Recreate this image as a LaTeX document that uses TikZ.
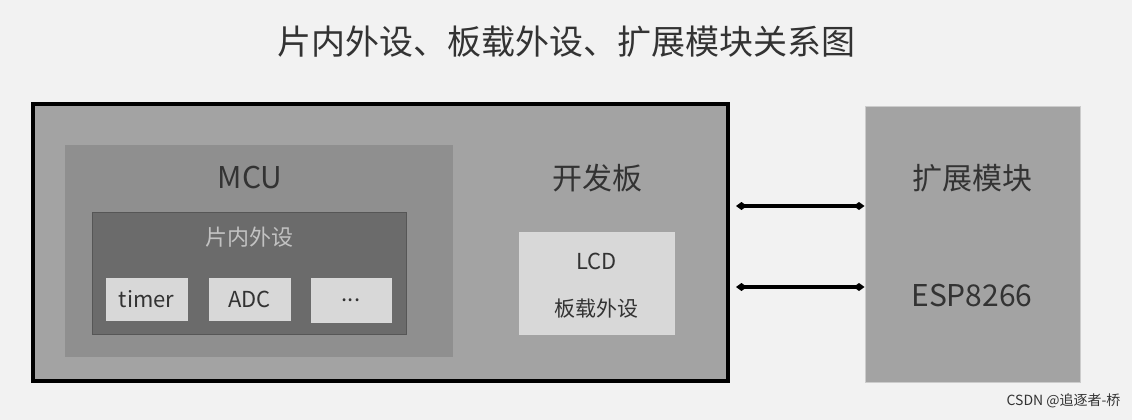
\documentclass[tikz,border=0pt]{standalone}
\usepackage{fontspec}
\setmainfont{Noto Sans CJK SC}
\usetikzlibrary{arrows.meta}
\definecolor{bg}{HTML}{F2F2F2}
\definecolor{board}{HTML}{A3A3A3}
\definecolor{mcu}{HTML}{8F8F8F}
\definecolor{periph}{HTML}{6B6B6B}
\definecolor{chip}{HTML}{D8D8D8}
\definecolor{txt}{HTML}{333333}
\tikzset{
 chipbox/.style={draw=white!85!black,line width=1pt,fill=chip,text=txt,font=\fontsize{22}{25}\selectfont},
 link/.style={line width=3.5pt,{Diamond[length=11pt,width=8pt]}-{Diamond[length=11pt,width=8pt]}}
}
\begin{document}
\begin{tikzpicture}[x=1pt,y=-1pt]
\fill[bg] (0,0) rectangle (1132,420);
\useasboundingbox (0,0) rectangle (1132,420);
\node[text=txt,font=\fontsize{34}{38}\selectfont] (title) at (566,42) {片内外设、板载外设、扩展模块关系图};
\draw[line width=4.5pt,fill=board] (33,104) rectangle (728,381);
\fill[mcu] (65,145) rectangle (453,357);
\node[text=txt,font=\fontsize{30}{34}\selectfont] (mcu) at (250,178) {MCU};
\fill[periph,draw=periph!80!black] (92,212) rectangle (406,334);
\node[text=chip!90!black,font=\fontsize{22}{25}\selectfont] (pn) at (249,237) {片内外设};
\node[chipbox,minimum width=81pt,minimum height=42pt] (timer) at (146.5,299) {timer};
\node[chipbox,minimum width=81pt,minimum height=42pt] (adc) at (249.5,299) {ADC};
\node[chipbox,minimum width=80pt,minimum height=44pt] (dots) at (351,300) {...};
\node[text=txt,font=\fontsize{30}{34}\selectfont] (kfb) at (597,178) {开发板};
\node[chipbox,minimum width=155pt,minimum height=102pt] (lcdbox) at (596.5,283) {};
\node[text=txt,font=\fontsize{22}{25}\selectfont] (lcd) at (596.5,261) {LCD};
\node[text=txt,font=\fontsize{21}{25}\selectfont] (bz) at (596.5,309) {板载外设};
\node[draw=white!80!black,fill=board,minimum width=215pt,minimum height=276pt,line width=1pt] (ext) at (972.5,244) {};
\node[text=txt,font=\fontsize{30}{34}\selectfont] (kz) at (972,178) {扩展模块};
\node[text=txt,font=\fontsize{30}{34}\selectfont] (esp) at (972,296) {ESP8266};
\draw[link] (736,206) -- (ext.west |- 0,206);
\draw[link] (736,287) -- (ext.west |- 0,287);
\node[text=txt,anchor=east,font=\fontsize{14}{16}\selectfont] (wm) at (1124,401) {CSDN @追逐者-桥};
\end{tikzpicture}
\end{document}
